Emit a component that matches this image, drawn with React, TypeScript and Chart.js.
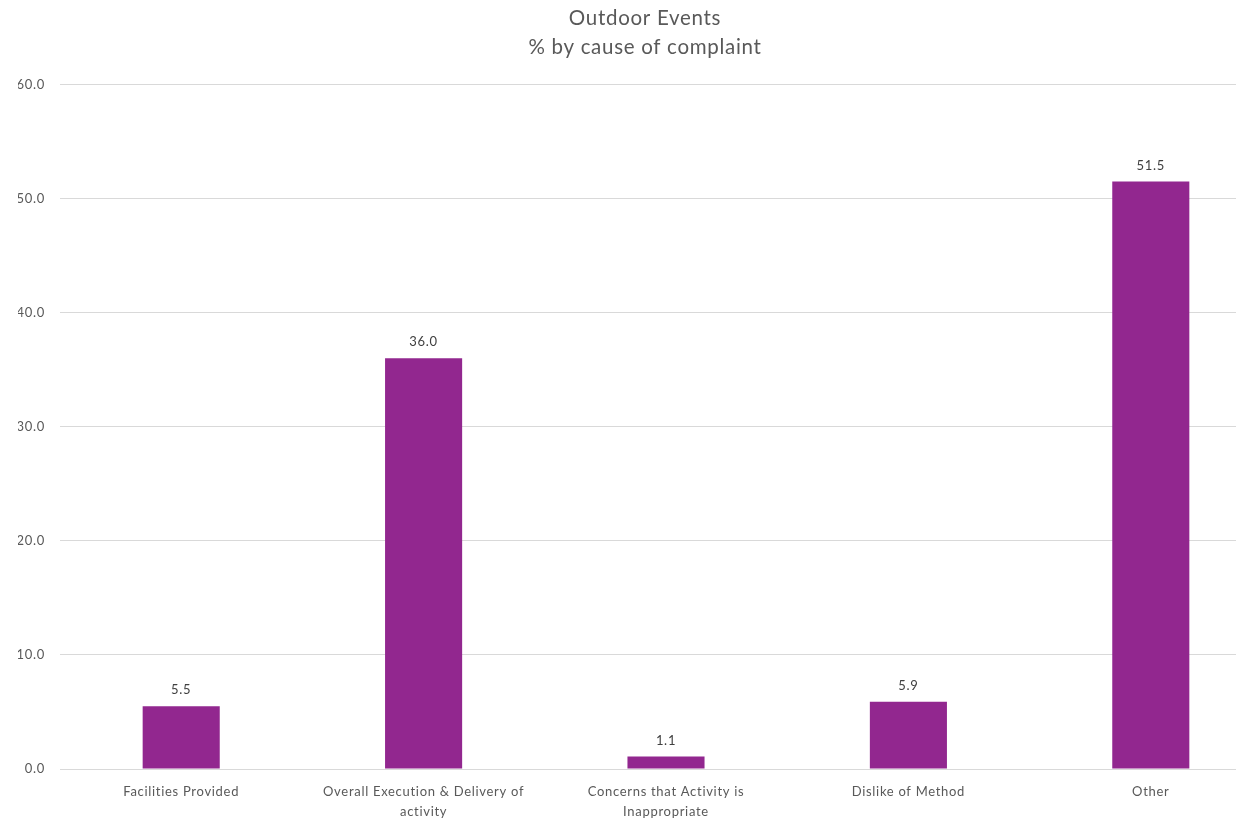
import React, { useEffect, useRef } from "react";
import { Chart, registerables } from "chart.js";

Chart.register(...registerables);

const titleLines = ["Outdoor Events", "% by cause of complaint"];
const categories: (string | string[])[] = [
  "Facilities Provided",
  ["Overall Execution & Delivery of", "activity"],
  ["Concerns that Activity is", "Inappropriate"],
  "Dislike of Method",
  "Other",
];
const values = [5.5, 36.0, 1.1, 5.9, 51.5];
const yMin = 0;
const yMax = 60;
const yStep = 10;

const FONT = "Lato, 'Open Sans', sans-serif";
const BAR_COLOR = "#92278F";
const TEXT_COLOR = "#595959";
const SPACING = "0.7px";

const spacingPlugin = {
  id: "spacing",
  beforeUpdate(chart: any) {
    chart.ctx.letterSpacing = SPACING;
  },
  beforeLayout(chart: any) {
    chart.ctx.letterSpacing = SPACING;
  },
  beforeDraw(chart: any) {
    chart.ctx.letterSpacing = SPACING;
  },
};

const valueLabels = {
  id: "valueLabels",
  afterDatasetsDraw(chart: any) {
    const ctx = chart.ctx;
    const meta = chart.getDatasetMeta(0);
    ctx.save();
    ctx.letterSpacing = SPACING;
    ctx.font = `13px ${FONT}`;
    ctx.fillStyle = "#404040";
    ctx.textAlign = "center";
    ctx.textBaseline = "middle";
    meta.data.forEach((bar: any, i: number) => {
      ctx.fillText(values[i].toFixed(1), bar.x, bar.y - 16);
    });
    ctx.restore();
  },
};

export default function App() {
  const ref = useRef<HTMLCanvasElement | null>(null);
  useEffect(() => {
    if (!ref.current) return;
    const chart = new Chart(ref.current, {
      type: "bar",
      data: {
        labels: categories,
        datasets: [
          {
            data: values,
            backgroundColor: BAR_COLOR,
            borderWidth: 0,
            categoryPercentage: 1,
            barPercentage: 0.318,
          },
        ],
      },
      options: {
        animation: false,
        responsive: false,
        maintainAspectRatio: false,
        layout: { padding: { left: 18, right: 24, top: 0, bottom: 0 } },
        plugins: {
          legend: { display: false },
          tooltip: { enabled: false },
          title: {
            display: true,
            text: titleLines,
            color: TEXT_COLOR,
            font: { family: FONT, size: 20.5, weight: "normal", lineHeight: 1.4 },
            padding: { top: 4, bottom: 23 },
          },
        },
        scales: {
          x: {
            grid: { display: false, drawTicks: false },
            border: { display: false },
            ticks: {
              color: TEXT_COLOR,
              font: { family: FONT, size: 13, lineHeight: 1.55 },
              maxRotation: 0,
              autoSkip: false,
              padding: 13,
            },
            afterFit: (scale: any) => {
              scale.height = 59;
            },
          },
          y: {
            min: yMin,
            max: yMax,
            grid: { color: "#d9d9d9", lineWidth: 1, drawTicks: false },
            border: { display: false },
            ticks: {
              stepSize: yStep,
              color: TEXT_COLOR,
              font: { family: FONT, size: 13 },
              padding: 15,
              callback: (v: any) => Number(v).toFixed(1),
            },
            afterFit: (scale: any) => {
              scale.width = 42;
            },
          },
        },
      },
      plugins: [spacingPlugin, valueLabels],
    });
    return () => chart.destroy();
  }, []);
  return (
    <div
      style={{
        position: "absolute",
        left: 0,
        top: 0,
        width: 1236,
        height: 828,
        overflow: "hidden",
        background: "#fff",
      }}
    >
      <canvas ref={ref} width={1296} height={828} style={{ display: "block" }} />
    </div>
  );
}
